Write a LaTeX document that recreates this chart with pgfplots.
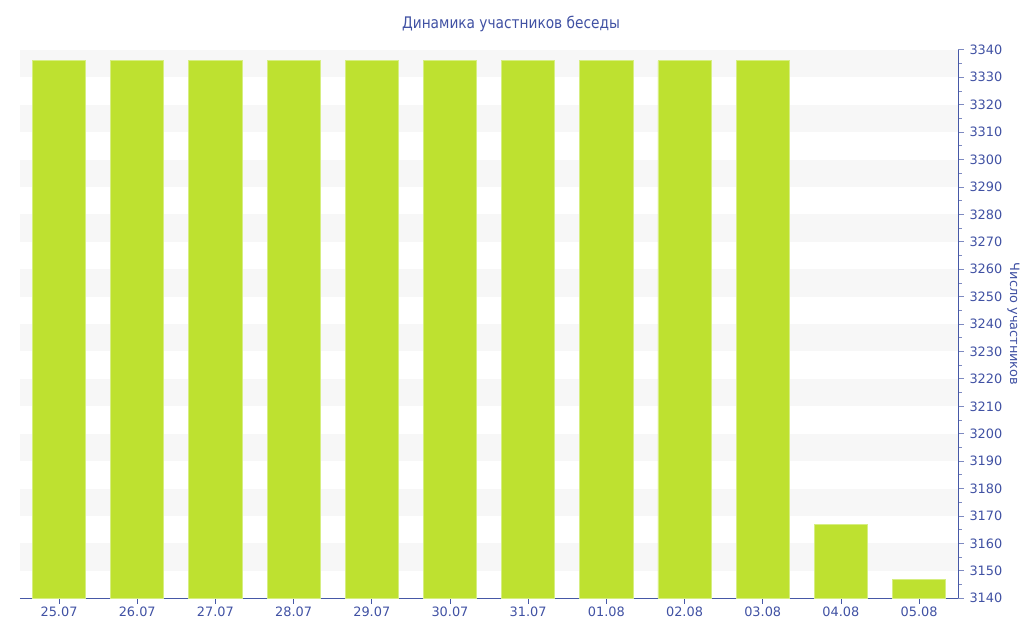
\documentclass[border=0pt]{standalone}
\usepackage{fontspec}
\setmainfont{DejaVu Sans}
\newfontfamily\titlefont[FakeStretch=0.86]{DejaVu Sans}
\usepackage{pgfplots}
\pgfplotsset{compat=1.18}
\definecolor{txt}{RGB}{64,81,163}
\definecolor{axl}{RGB}{70,88,166}
\definecolor{barc}{RGB}{190,225,48}
\definecolor{bared}{RGB}{214,238,130}
\definecolor{band}{RGB}{247,247,247}
\begin{document}
\begin{tikzpicture}[x=0.75pt,y=0.75pt]
\path (0,0) rectangle (1024,640);
\begin{axis}[
  at={(20*0.75pt,40*0.75pt)}, anchor=south west,
  scale only axis, width=941*0.75pt, height=550*0.75pt,
  xmin=-0.5, xmax=11.5, ymin=3140, ymax=3340,
  axis x line*=bottom, axis y line*=right,
  axis line style={axl, line width=0.8pt},
  xtick={0,...,11},
  xticklabels={25.07,26.07,27.07,28.07,29.07,30.07,31.07,01.08,02.08,03.08,04.08,05.08},
  ytick={3140,3150,...,3340},
  minor y tick num=1,
  tick style={color=axl!70, line width=0.6pt},
  major tick length=4pt, minor tick length=2.5pt,
  tick align=outside,
  x tick style={color=axl},
  ticklabel style={font=\fontsize{9.7}{11}\selectfont, text=txt},
  /pgf/number format/assume math mode=true,
  /pgf/number format/1000 sep={},
  yticklabel style={xshift=1pt},
  xticklabel style={yshift=1pt},
  ylabel={Число участников},
  ylabel shift={-3pt},
  ylabel style={rotate=180, font=\fontsize{9.7}{11}\selectfont, text=txt},
  title={\titlefont Динамика участников беседы},
  title style={font=\fontsize{12}{14}\selectfont, text=txt, yshift=4pt, xshift=16.5pt},
  ybar, bar width=0.68,
  clip=true,
]
\fill[band] (axis cs:-0.5,3150) rectangle (axis cs:11.5,3160);
\fill[band] (axis cs:-0.5,3170) rectangle (axis cs:11.5,3180);
\fill[band] (axis cs:-0.5,3190) rectangle (axis cs:11.5,3200);
\fill[band] (axis cs:-0.5,3210) rectangle (axis cs:11.5,3220);
\fill[band] (axis cs:-0.5,3230) rectangle (axis cs:11.5,3240);
\fill[band] (axis cs:-0.5,3250) rectangle (axis cs:11.5,3260);
\fill[band] (axis cs:-0.5,3270) rectangle (axis cs:11.5,3280);
\fill[band] (axis cs:-0.5,3290) rectangle (axis cs:11.5,3300);
\fill[band] (axis cs:-0.5,3310) rectangle (axis cs:11.5,3320);
\fill[band] (axis cs:-0.5,3330) rectangle (axis cs:11.5,3340);
\addplot[fill=barc, draw=bared, line width=0.5pt] coordinates {
(0,3336) (1,3336) (2,3336) (3,3336) (4,3336) (5,3336)
(6,3336) (7,3336) (8,3336) (9,3336) (10,3167) (11,3147)
};
\end{axis}
\end{tikzpicture}
\end{document}
